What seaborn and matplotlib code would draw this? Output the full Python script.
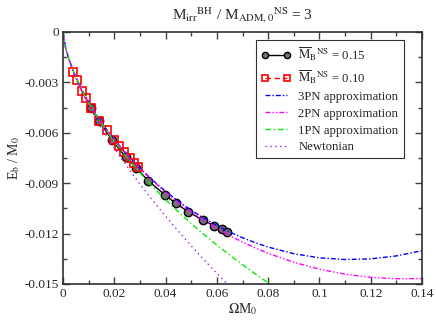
import matplotlib
matplotlib.use("Agg")

import matplotlib.pyplot as plt
from matplotlib.ticker import MultipleLocator, FuncFormatter
import seaborn as sns

# numerical data, M_B^NS = 0.15 and 0.10
om_015 = [0.0108, 0.0142, 0.0190, 0.0246, 0.0285, 0.0333, 0.0398, 0.0439,
          0.0489, 0.0547, 0.0590, 0.0619, 0.0638]
eb_015 = [-0.00454, -0.00530, -0.00643, -0.00746, -0.00808, -0.00887, -0.00970,
          -0.01020, -0.01070, -0.01122, -0.01154, -0.01174, -0.01189]

om_010 = [0.0040, 0.0053, 0.0073, 0.0088, 0.0109, 0.0142, 0.0170, 0.0199,
          0.0218, 0.0239, 0.0261, 0.0278, 0.0294]
eb_010 = [-0.00240, -0.00286, -0.00349, -0.00395, -0.00454, -0.00530, -0.00583,
          -0.00643, -0.00679, -0.00713, -0.00752, -0.00778, -0.00802]

# PN curves
om_pn = [0, 0.001, 0.002, 0.004, 0.006, 0.008, 0.01, 0.0125, 0.015, 0.0175,
         0.02, 0.025, 0.03, 0.035, 0.04, 0.045, 0.05, 0.055, 0.06, 0.065,
         0.07, 0.075, 0.08, 0.09, 0.1, 0.11, 0.12, 0.13, 0.14]
eb_3pn = [0, -0.00093, -0.001469, -0.002313, -0.003007, -0.003617, -0.004168,
          -0.004796, -0.00537, -0.005903, -0.006399, -0.007303, -0.008108,
          -0.008832, -0.009485, -0.010075, -0.010609, -0.011089, -0.01152,
          -0.011905, -0.012245, -0.012544, -0.012801, -0.013197, -0.013443,
          -0.013544, -0.013504, -0.013328, -0.013017]
eb_2pn = [0, -0.00093, -0.001469, -0.002313, -0.003008, -0.003618, -0.00417,
          -0.004799, -0.005375, -0.00591, -0.006408, -0.007319, -0.008135,
          -0.008873, -0.009543, -0.010156, -0.010715, -0.011226, -0.011693,
          -0.012119, -0.012506, -0.012857, -0.013173, -0.013707, -0.014118,
          -0.014415, -0.014602, -0.014687, -0.014673]

om_1pn = [0, 0.001, 0.002, 0.004, 0.006, 0.008, 0.01, 0.0125, 0.015, 0.0175,
          0.02, 0.025, 0.03, 0.035, 0.04, 0.045, 0.05, 0.055, 0.06, 0.065,
          0.07, 0.075, 0.08, 0.085]
eb_1pn = [0, -0.0009303, -0.00147, -0.002317, -0.003018, -0.003635, -0.004197,
          -0.004842, -0.005436, -0.005994, -0.006518, -0.007491, -0.008383,
          -0.00921, -0.009983, -0.010712, -0.011402, -0.012058, -0.012685,
          -0.01328, -0.013852, -0.014403, -0.014932, -0.015442]

om_newt = [0, 0.001, 0.002, 0.004, 0.006, 0.008, 0.01, 0.0125, 0.015, 0.0175,
           0.02, 0.025, 0.03, 0.035, 0.04, 0.045, 0.05, 0.055, 0.06, 0.065]
eb_newt = [0, -0.0009375, -0.001488, -0.002363, -0.003096, -0.00375, -0.004352,
           -0.00505, -0.005702, -0.00632, -0.006908, -0.008016, -0.009052,
           -0.010032, -0.010965, -0.011861, -0.012724, -0.013559, -0.014368,
           -0.015156]

sns.set_theme(style="ticks")
plt.rcParams['font.family'] = ['Liberation Serif', 'DejaVu Serif']
plt.rcParams['mathtext.fontset'] = 'stix'
plt.rcParams['axes.unicode_minus'] = False
plt.rcParams['lines.scale_dashes'] = False

fig, ax = plt.subplots(figsize=(4.36, 3.2), dpi=100)
fig.subplots_adjust(left=0.1445, right=0.968, bottom=0.1125, top=0.9)

sns.lineplot(x=om_015, y=eb_015, ax=ax, color='black', lw=1.0, marker='o',
             ms=6, mfc='#707070', mec='black', mew=1.0,
             label=r'$\overline{\mathrm{M}}_{\mathrm{B}}{}^{\mathrm{NS}}$ = 0.15')
sns.lineplot(x=om_010, y=eb_010, ax=ax, color='red', lw=1.0, ls=(0, (4, 2.5)),
             marker='s', ms=5.5, mfc='none', mec='red', mew=1.2,
             label=r'$\overline{\mathrm{M}}_{\mathrm{B}}{}^{\mathrm{NS}}$ = 0.10')
sns.lineplot(x=om_pn, y=eb_3pn, ax=ax, color='blue', lw=1.0,
             ls=(0, (3.5, 1.5, 1, 1.5)), label='3PN approximation')
sns.lineplot(x=om_pn, y=eb_2pn, ax=ax, color='magenta', lw=1.0,
             ls=(0, (3.5, 1.5, 1, 1.5, 1, 1.5)), label='2PN approximation')
sns.lineplot(x=om_1pn, y=eb_1pn, ax=ax, color='#00ee00', lw=1.0,
             ls=(0, (4, 2, 1, 2)), label='1PN approximation')
sns.lineplot(x=om_newt, y=eb_newt, ax=ax, color='#a020f0', lw=1.0,
             ls=(0, (1, 2.5)), label='Newtonian')

ax.set_xlim(0, 0.14)
ax.set_ylim(-0.015, 0)
ax.xaxis.set_major_locator(MultipleLocator(0.02))
ax.xaxis.set_minor_locator(MultipleLocator(0.01))
ax.yaxis.set_major_locator(MultipleLocator(0.003))
ax.yaxis.set_minor_locator(MultipleLocator(0.0015))
fmt = FuncFormatter(lambda v, p: '%g' % round(v, 6))
ax.xaxis.set_major_formatter(fmt)
ax.yaxis.set_major_formatter(fmt)
ax.tick_params(which='both', direction='in', top=True, right=True,
               labelsize=9.5, color='#404040', pad=3)
ax.tick_params(which='major', length=5, width=1)
ax.tick_params(which='minor', length=3, width=1)
for s in ax.spines.values():
    s.set_linewidth(1.2)
    s.set_color('#303030')

ax.set_xlabel(r'$\Omega$M$_0$', fontsize=10, labelpad=1)
ax.set_ylabel(r'E$_\mathrm{b}$ / M$_0$', fontsize=10, labelpad=2)
ax.set_title(r'M$_{\mathrm{irr}}{}^{\mathrm{BH}}$ / M$_{\mathrm{ADM,0}}{}^{\mathrm{NS}}$ = 3',
             fontsize=11, pad=9)

leg = ax.legend(loc='upper left', bbox_to_anchor=(0.538, 0.968),
                borderaxespad=0, fontsize=9.2, numpoints=2, markerscale=0.75,
                handlelength=2.3, handletextpad=0.6, borderpad=0.4,
                labelspacing=0.38, fancybox=False, framealpha=1)
leg.get_frame().set_edgecolor('#303030')
leg.get_frame().set_linewidth(0.8)

plt.savefig("out.png", dpi=100)
plt.close()
